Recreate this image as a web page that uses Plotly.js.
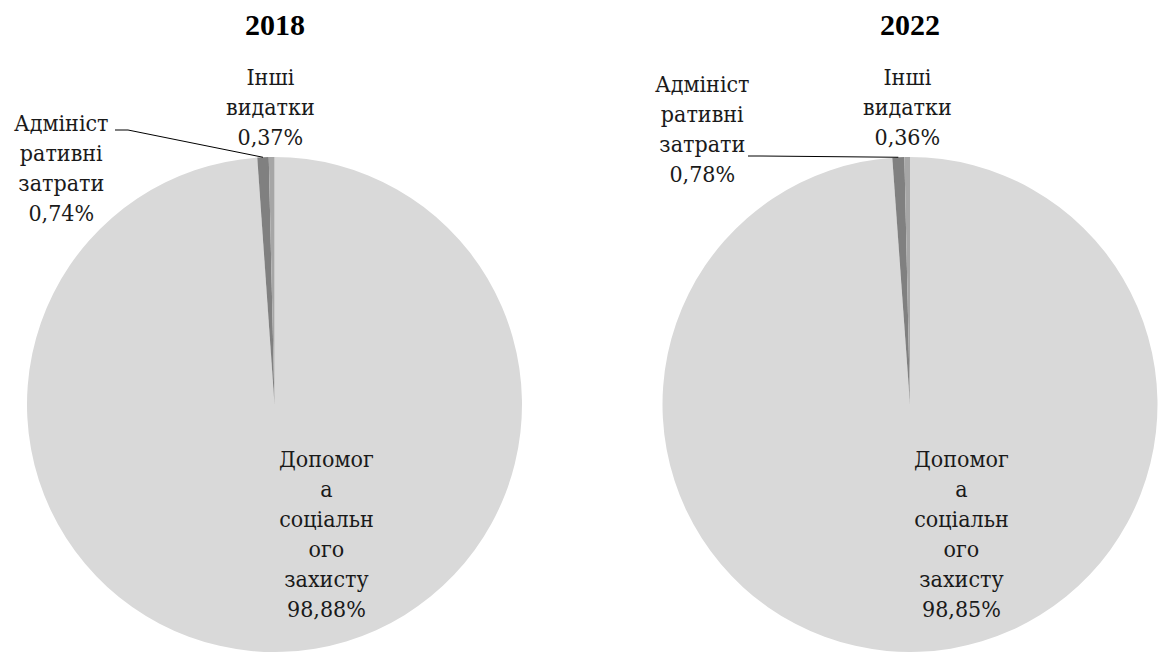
<!DOCTYPE html>
<html>
<head>
<meta charset="utf-8">
<script src="https://cdn.plot.ly/plotly-3.0.1.min.js"></script>
<style>html,body{margin:0;padding:0;background:#fff;}#chart{width:1158px;height:652px;}</style>
</head>
<body>
<div id="chart"></div>
<script>
// Data
const years = ["2018", "2022"];
const categories = ["Допомога соціального захисту", "Адміністративні затрати", "Інші видатки"];
const labelTexts = ["Допомог<br>а<br>соціальн<br>ого<br>захисту", "Адмініст<br>ративні<br>затрати", "Інші<br>видатки"];
const values2018 = [98.88, 0.74, 0.37];
const values2022 = [98.85, 0.78, 0.36];
const sliceColors = ["#d9d9d9", "#808080", "#a6a6a6"];

const W = 1158, H = 652;
const px = v => v / W;
const py = v => 1 - v / H;

// Pie geometry (pixels)
const pies = [
  {vals: values2018, cx: 274.5, x0: 27, x1: 522},
  {vals: values2022, cx: 910, x0: 662.5, x1: 1157.5}
];
const pieH = 495;
const r = pieH / 2, cy = H - r;

const fmt = v => v.toFixed(2).replace('.', ',') + '%';
const SERIF = 'Liberation Serif, Times New Roman, serif';
const LABELFONT = 'DejaVu Serif Condensed, DejaVu Serif, serif';

const traces = pies.map((p, i) => ({
  type: 'pie',
  labels: categories,
  values: p.vals,
  sort: false,
  direction: 'clockwise',
  rotation: 0,
  textinfo: 'none',
  hoverinfo: 'label+percent',
  marker: {colors: sliceColors, line: {width: 0}},
  domain: {x: [px(p.x0), px(p.x1)], y: [0, pieH / H]},
  showlegend: false
}));

const annotations = [];
const shapes = [];

// Label positions (pixels) per pie: [main, admin, other]
const labelPos = [
  [[326, 534], [61, 168], [270, 107]],
  [[961, 534], [702, 129], [907, 107]]
];
const leaderStart = [[115, 130, 128], [748, 156, 760]];

pies.forEach((p, i) => {
  annotations.push({
    text: '<b>' + years[i] + '</b>', x: px(p.cx), y: py(24), xref: 'paper', yref: 'paper',
    showarrow: false, xanchor: 'center', yanchor: 'middle',
    font: {family: SERIF, size: 30, color: '#000'}
  });
  p.vals.forEach((v, k) => {
    annotations.push({
      text: labelTexts[k] + '<br>' + fmt(v),
      x: px(labelPos[i][k][0]), y: py(labelPos[i][k][1]), xref: 'paper', yref: 'paper',
      showarrow: false, xanchor: 'center', yanchor: 'middle', align: 'center',
      font: {family: LABELFONT, size: 23, color: '#1a1a1a'}
    });
  });
  // leader line to middle of admin slice
  const total = p.vals.reduce((a, b) => a + b, 0);
  const midFrac = (p.vals[2] + p.vals[1] / 2) / total;
  const ang = midFrac * 2 * Math.PI;
  const ex = p.cx - r * Math.sin(ang);
  const ey = cy - r * Math.cos(ang);
  const s = leaderStart[i];
  shapes.push({
    type: 'path', xref: 'paper', yref: 'paper',
    path: `M ${px(s[0])} ${py(s[1])} L ${px(s[2])} ${py(s[1])} L ${px(ex)} ${py(ey)}`,
    line: {color: '#000', width: 1}
  });
});

const layout = {
  width: W, height: H,
  margin: {l: 0, r: 0, t: 0, b: 0},
  paper_bgcolor: '#fff',
  font: {family: SERIF},
  annotations: annotations,
  shapes: shapes
};

Plotly.newPlot('chart', traces, layout, {displayModeBar: false, staticPlot: true});
</script>
</body>
</html>
